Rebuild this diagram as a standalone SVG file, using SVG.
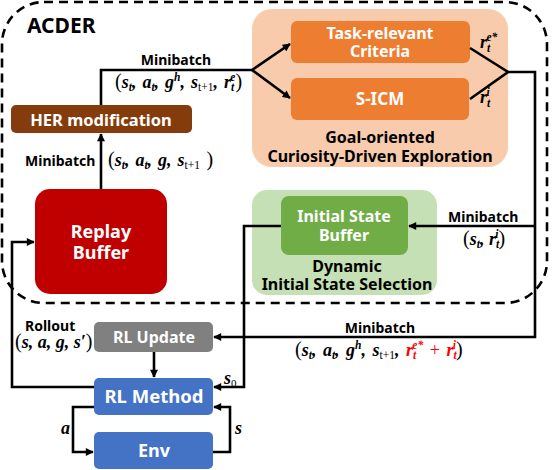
<svg xmlns="http://www.w3.org/2000/svg" width="552" height="470" viewBox="0 0 552 470">
<defs>
<style>
.lbl{font-family:"Noto Sans","Open Sans",sans-serif;font-weight:bold;fill:#000;}
.wt{font-family:"Noto Sans","Open Sans",sans-serif;font-weight:bold;fill:#fff;text-anchor:middle;}
.m{font-family:"Liberation Serif","DejaVu Serif",serif;font-style:italic;font-weight:bold;font-size:18px;fill:#000;}
.m .up{font-style:normal;font-weight:normal;}
.red{fill:#FF0000;}
.ln{fill:none;stroke:#000;stroke-width:2.6;stroke-linejoin:miter;}
</style>
<marker id="ah" viewBox="0 0 10 10" refX="9" refY="5" markerWidth="9" markerHeight="8" markerUnits="userSpaceOnUse" orient="auto">
<path d="M0,0 L10,5 L0,10 z" fill="#000"/>
</marker>
</defs>
<rect width="552" height="470" fill="#fff"/>

<g id="acder">
<rect x="2" y="2" width="545" height="301" rx="42" fill="none" stroke="#000" stroke-width="2.6" stroke-dasharray="9,6"/>
<text class="lbl" x="27" y="33" font-size="21">ACDER</text>
</g>

<g id="goal-oriented">
<rect x="252" y="9" width="256" height="158" rx="20" fill="#F8CBAD"/>
<text class="lbl" x="380" y="143" font-size="16" text-anchor="middle">Goal-oriented</text>
<text class="lbl" x="380" y="162" font-size="16" text-anchor="middle">Curiosity-Driven Exploration</text>
</g>

<g id="task-relevant">
<rect x="291" y="21" width="179" height="42" rx="6" fill="#ED7D31"/>
<text class="wt" x="380" y="39" font-size="16">Task-relevant</text>
<text class="wt" x="380" y="57" font-size="16">Criteria</text>
</g>

<g id="s-icm">
<rect x="291" y="78" width="178" height="42" rx="6" fill="#ED7D31"/>
<text class="wt" x="380" y="105" font-size="17">S-ICM</text>
</g>

<g id="dynamic-init">
<rect x="252" y="190" width="185" height="105" rx="15" fill="#C5E0B4"/>
<text class="lbl" x="347" y="272" font-size="16" text-anchor="middle">Dynamic</text>
<text class="lbl" x="347" y="290" font-size="16" text-anchor="middle">Initial State Selection</text>
</g>

<g id="initial-state-buffer">
<rect x="281" y="196" width="127" height="59" rx="8" fill="#70AD47"/>
<text class="wt" x="344" y="222" font-size="16">Initial State</text>
<text class="wt" x="344" y="241" font-size="16">Buffer</text>
</g>

<g id="her">
<rect x="11" y="105" width="181" height="28" rx="5" fill="#843C0C"/>
<text class="wt" x="101" y="126" font-size="16.5">HER modification</text>
</g>

<g id="replay-buffer">
<rect x="35" y="189" width="132" height="105" rx="15" fill="#C00000"/>
<text class="wt" x="101" y="238" font-size="18">Replay</text>
<text class="wt" x="101" y="259" font-size="18">Buffer</text>
</g>

<g id="rl-update">
<rect x="94" y="322" width="119" height="30" rx="5" fill="#808080"/>
<text class="wt" x="154" y="343" font-size="16">RL Update</text>
</g>

<g id="rl-method">
<rect x="94" y="378" width="119" height="37" rx="5" fill="#4472C4"/>
<text class="wt" x="154" y="403" font-size="18.5">RL Method</text>
</g>

<g id="env">
<rect x="94" y="432" width="119" height="37" rx="5" fill="#4472C4"/>
<text class="wt" x="154" y="457" font-size="18">Env</text>
</g>

<g id="connectors">
<path class="ln" d="M101,189 V134" marker-end="url(#ah)"/>
<path class="ln" d="M101,105 V70 H252"/>
<path class="ln" d="M252,70 L290,44" marker-end="url(#ah)"/>
<path class="ln" d="M252,70 L290,98" marker-end="url(#ah)"/>
<path class="ln" d="M470,48 L508,72 L470,99"/>
<path class="ln" d="M508,72 H535 V337 H214" marker-end="url(#ah)"/>
<path class="ln" d="M535,226 H409" marker-end="url(#ah)"/>
<path class="ln" d="M281,226 H244 V387 H214" marker-end="url(#ah)"/>
<path class="ln" d="M94,387 H12 V242 H34" marker-end="url(#ah)"/>
<path class="ln" d="M154,352 V377" marker-end="url(#ah)"/>
<path class="ln" d="M94,407 H73 V452 H93" marker-end="url(#ah)"/>
<path class="ln" d="M213,452 H230 V407 H214" marker-end="url(#ah)"/>
</g>

<g id="labels">
<text class="lbl" x="176" y="65" font-size="14" text-anchor="middle">Minibatch</text>
<text class="m" x="115" y="88" word-spacing="1.5"><tspan class="up" font-size="20">(</tspan>s<tspan font-size="11.5" dy="3">t</tspan><tspan dy="-3">, a</tspan><tspan font-size="11.5" dy="3">t</tspan><tspan dy="-3">, g</tspan><tspan font-size="11.5" dy="-7">h</tspan><tspan dy="7">, s</tspan><tspan font-size="11.5" dy="3" class="up">t+1</tspan><tspan dy="-3">, r</tspan><tspan font-size="11.5" dy="3">t</tspan><tspan font-size="11.5" dx="-3.8" dy="-10">e</tspan><tspan class="up" font-size="20" dy="7">)</tspan></text>

<text class="lbl" x="25" y="166" font-size="14">Minibatch</text>
<text class="m" x="108" y="166" word-spacing="1.5"><tspan class="up" font-size="20">(</tspan>s<tspan font-size="11.5" dy="3">t</tspan><tspan dy="-3">, a</tspan><tspan font-size="11.5" dy="3">t</tspan><tspan dy="-3">, g, s</tspan><tspan font-size="11.5" dy="3" class="up">t+1</tspan><tspan class="up" font-size="20" dy="-3"> )</tspan></text>

<text class="m" x="480" y="48" font-size="18">r<tspan font-size="11.5" dy="4">t</tspan><tspan font-size="11.5" dx="-3.8" dy="-11">e*</tspan></text>
<text class="m" x="480" y="103" font-size="18">r<tspan font-size="11.5" dy="4">t</tspan><tspan font-size="11.5" dx="-3.8" dy="-11">i</tspan></text>

<text class="lbl" x="448" y="222" font-size="14">Minibatch</text>
<text class="m" x="463" y="245"><tspan class="up" font-size="20">(</tspan>s<tspan font-size="11.5" dy="3">t</tspan><tspan dy="-3">, r</tspan><tspan font-size="11.5" dy="3">t</tspan><tspan font-size="11.5" dx="-3.8" dy="-10">i</tspan><tspan class="up" font-size="20" dy="7">)</tspan></text>

<text class="lbl" x="380" y="333" font-size="14" text-anchor="middle">Minibatch</text>
<text class="m" x="295" y="356" word-spacing="2"><tspan class="up" font-size="20">(</tspan>s<tspan font-size="11.5" dy="3">t</tspan><tspan dy="-3">, a</tspan><tspan font-size="11.5" dy="3">t</tspan><tspan dy="-3">, g</tspan><tspan font-size="11.5" dy="-7">h</tspan><tspan dy="7">, s</tspan><tspan font-size="11.5" dy="3" class="up">t+1</tspan><tspan dy="-3">, </tspan><tspan class="red">r</tspan><tspan class="red" font-size="11.5" dy="3">t</tspan><tspan class="red" font-size="11.5" dx="-3.8" dy="-10">e*</tspan><tspan class="red up" dy="7"> + </tspan><tspan class="red">r</tspan><tspan class="red" font-size="11.5" dy="3">t</tspan><tspan class="red" font-size="11.5" dx="-3.8" dy="-10">i</tspan><tspan class="up" font-size="20" dy="7">)</tspan></text>

<text class="lbl" x="25" y="331" font-size="14">Rollout</text>
<text class="m" x="15" y="348"><tspan class="up" font-size="20">(</tspan>s, a, g, s′<tspan class="up" font-size="20">)</tspan></text>

<text class="m" x="224" y="384" font-size="17">s<tspan font-size="11" dy="3" class="up">0</tspan></text>
<text class="m" x="61" y="434" font-size="17">a</text>
<text class="m" x="235" y="434" font-size="17">s</text>
</g>
</svg>
